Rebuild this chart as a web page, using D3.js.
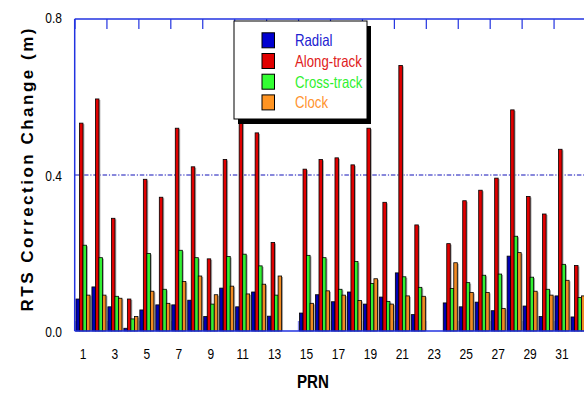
<!DOCTYPE html>
<html><head><meta charset="utf-8">
<script src="https://cdn.jsdelivr.net/npm/d3@7/dist/d3.min.js"></script>
<style>html,body{margin:0;padding:0;background:#fff;}svg{display:block;}</style>
</head><body>
<script>
const prns = [1,2,3,4,5,6,7,8,9,10,11,12,13,14,15,16,17,18,19,20,21,22,23,24,25,26,27,28,29,30,31,32];
const seriesNames = ["Radial","Along-track","Cross-track","Clock"];
const radial = [0.082,0.113,0.062,0.007,0.054,0.067,0.067,0.079,0.037,0.110,0.062,0.100,0.038,null,0.046,0.093,0.075,0.100,0.069,0.087,0.149,0.042,null,0.072,0.062,0.074,0.052,0.192,0.064,0.037,0.090,0.036];
const along  = [0.533,0.595,0.289,0.082,0.389,0.343,0.520,0.421,0.185,0.440,0.550,0.508,0.227,null,0.415,0.440,0.444,0.426,0.520,0.330,0.681,0.272,null,0.224,0.334,0.361,0.392,0.567,0.345,0.300,0.466,0.168];
const cross  = [0.220,0.188,0.089,0.031,0.199,0.107,0.207,0.188,0.069,0.191,0.197,0.167,0.092,null,0.194,0.188,0.107,0.178,0.122,0.076,0.139,0.112,null,0.109,0.124,0.143,0.146,0.243,0.138,0.107,0.171,0.086];
const clock  = [0.092,0.092,0.084,0.037,0.102,0.071,0.127,0.141,0.093,0.115,0.095,0.120,0.141,null,0.071,0.103,0.092,0.078,0.134,0.069,0.090,0.089,null,0.175,0.099,0.099,0.058,0.201,0.102,0.092,0.130,0.090];
const yTicks = [0.0,0.4,0.8];
const xTickLabels = [1,3,5,7,9,11,13,15,17,19,21,23,25,27,29,31];

const barColors = ["#0000b4","#e00000","#33f033","#f08a22"];
const legendSwatch = ["#0000d0","#e00000","#33ff33","#ff9422"];
const legendText = ["#2020d0","#e02020","#30f030","#ff9430"];
const axisBlue = "#2233e0";

const W=584,H=394;
const svg = d3.select("body").append("svg").attr("width",W).attr("height",H);
svg.append("rect").attr("width",W).attr("height",H).attr("fill","#fff");

const y = d3.scaleLinear().domain([0,0.8]).range([331,19]);
const x = d3.scaleBand().domain(prns).range([75,586]).paddingInner(0.12).paddingOuter(0.06);
const xs = d3.scaleBand().domain(seriesNames).range([0,x.bandwidth()]);
const step = x.step();
const plotLeft = 74.7, plotTop = y(0.8), plotBottom = y(0);

const narrow = (sel, f) => sel.each(function(){ const L=this.getComputedTextLength(); d3.select(this).attr("textLength",L*f).attr("lengthAdjust","spacingAndGlyphs"); });

// bottom ticks (light, behind bars)
const boundaries = d3.range(0, 34, 2).map(k => x.range()[0] + k*step).filter(v => v < W);
svg.append("g").selectAll("line").data(boundaries).join("line")
  .attr("x1",d=>d).attr("x2",d=>d).attr("y1",plotBottom).attr("y2",plotBottom-10)
  .attr("stroke","#8c8cf0").attr("stroke-width",1.5);

// dashed gridline at 0.4
svg.append("line").attr("x1",plotLeft).attr("x2",W).attr("y1",y(0.4)).attr("y2",y(0.4))
  .attr("stroke","#1010b8").attr("stroke-width",1).attr("stroke-dasharray","4.5,1.8,1.2,1.8");

// bars
const series = [radial, along, cross, clock];
const data = [];
prns.forEach((p,i)=>series.forEach((s,j)=>{ if(s[i]!=null) data.push({p, j, v:s[i], name:seriesNames[j]}); }));
const bw = xs.bandwidth();
const gBars = svg.append("g");
data.forEach(d=>{
  const bx = x(d.p)+xs(d.name);
  gBars.append("rect").attr("x",bx+1.4).attr("y",y(d.v)+1).attr("width",bw).attr("height",Math.max(0,plotBottom-y(d.v)-1))
    .attr("fill","#a8a8a8");
  gBars.append("rect").attr("x",bx).attr("y",y(d.v)).attr("width",bw).attr("height",plotBottom-y(d.v))
    .attr("fill",barColors[d.j]).attr("stroke","#000").attr("stroke-width",0.8);
});

// axes frame
svg.append("line").attr("x1",plotLeft).attr("x2",plotLeft).attr("y1",plotTop).attr("y2",plotBottom).attr("stroke",axisBlue).attr("stroke-width",1.5);
svg.append("line").attr("x1",plotLeft).attr("x2",W).attr("y1",plotTop).attr("y2",plotTop).attr("stroke",axisBlue).attr("stroke-width",1.5);
svg.append("line").attr("x1",plotLeft).attr("x2",W).attr("y1",plotBottom).attr("y2",plotBottom).attr("stroke",axisBlue).attr("stroke-width",1.5);
svg.append("g").selectAll("line").data(boundaries).join("line")
  .attr("x1",d=>d).attr("x2",d=>d).attr("y1",plotTop).attr("y2",plotTop+10)
  .attr("stroke",axisBlue).attr("stroke-width",1.2);

// y tick labels
svg.append("g").selectAll("text").data(yTicks).join("text")
  .attr("x",62).attr("y",d=>y(d)+(d===0.8?4:6)).attr("text-anchor","end")
  .attr("font-family","Liberation Sans, Arial, sans-serif").attr("font-size",15).attr("fill","#000")
  .text(d=>d.toFixed(1)).call(narrow,0.8);

// x tick labels
svg.append("g").selectAll("text").data(xTickLabels).join("text")
  .attr("x",d=>x(d)+x.bandwidth()/2).attr("y",358.5).attr("text-anchor","middle")
  .attr("font-family","Liberation Sans, Arial, sans-serif").attr("font-size",15).attr("fill","#000")
  .text(d=>d).call(narrow,0.8);

// axis titles
svg.append("text").attr("transform","translate(33,170) rotate(-90)").attr("text-anchor","middle")
  .attr("font-family","Liberation Sans, Arial, sans-serif").attr("font-size",17).attr("font-weight","bold")
  .attr("textLength",283).attr("lengthAdjust","spacing").text("RTS Correction Change (m)");
svg.append("text").attr("x",313).attr("y",388).attr("text-anchor","middle")
  .attr("font-family","Liberation Sans, Arial, sans-serif").attr("font-size",18).attr("font-weight","bold")
  .text("PRN").call(narrow,0.84);

// legend
const lg = svg.append("g");
lg.append("rect").attr("x",238).attr("y",26).attr("width",133).attr("height",98).attr("fill","#000");
lg.append("rect").attr("x",234).attr("y",21).attr("width",133).attr("height",98).attr("fill","#fff").attr("stroke","#000").attr("stroke-width",1);
seriesNames.forEach((n,i)=>{
  const cy = 40.3 + i*20.7;
  lg.append("rect").attr("x",262).attr("y",cy-7.5).attr("width",12.5).attr("height",15)
    .attr("fill",legendSwatch[i]).attr("stroke","#000").attr("stroke-width",1);
  lg.append("text").attr("x",295).attr("y",cy+6).attr("font-family","Liberation Sans, Arial, sans-serif")
    .attr("font-size",16.5).attr("fill",legendText[i]).text(n).call(narrow,0.8);
});
</script>
</body></html>
